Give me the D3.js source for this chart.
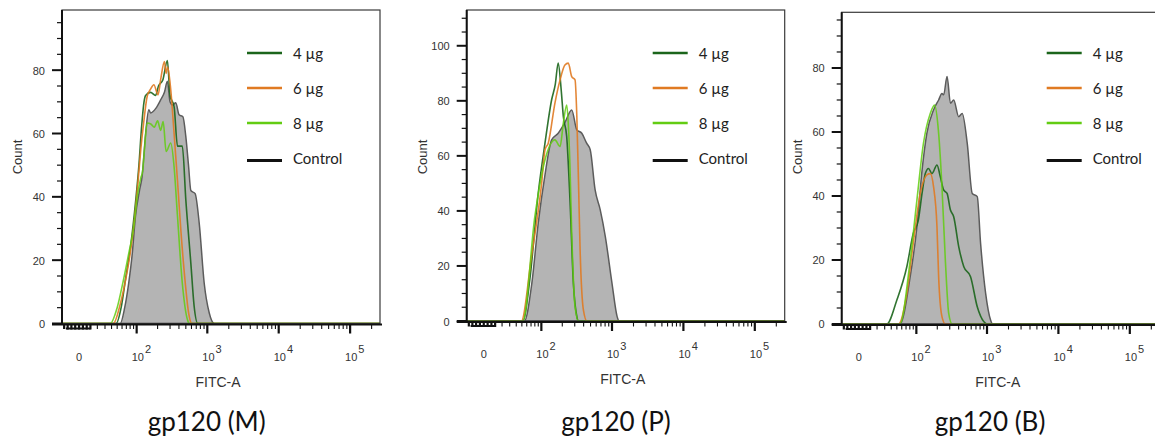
<!DOCTYPE html>
<html>
<head>
<meta charset="utf-8">
<script src="https://cdn.jsdelivr.net/npm/d3@7"></script>
<style>
  body { margin: 0; background: #fff; }
  svg { display: block; }
</style>
</head>
<body>
<div id="chart"></div>
<script>
// legend / series names
var seriesNames = ['4 µg', '6 µg', '8 µg', 'Control'];
var panelTitles = ['gp120 (M)', 'gp120 (P)', 'gp120 (B)'];

// histograms: [FITC-A value, count]
var mControl = [[56,0],[66,5],[76,12.7],[86,22],[96,33.8],[110,42],[120,46.4],[135,60],[150,67.5],[159,66.5],[190,68],[221,70.6],[250,73],[275,76.5],[300,70],[324,69],[361,69.7],[402,65.9],[455,65.3],[500,59],[545,50],[588,42],[675,41],[770,31.7],[905,12.7],[1065,3.3],[1255,0]];
var m4 = [[48,0],[58,5],[68,14],[82,25],[96,38],[108,50],[118,62],[128,70],[135,72],[159,73],[187,72],[206,75],[238,77],[275,83],[300,72],[342,68.5],[382,56],[446,56],[500,39],[588,19],[655,5.3],[736,0]];
var m6 = [[43,0],[56,6],[70,15],[80,22],[92,32],[105,45],[115,55],[126,63],[142,71.7],[159,74],[177,75.4],[203,72.2],[221,77],[250,82.7],[264,79],[277,81],[307,73.8],[342,60],[382,45],[424,30],[485,14],[550,3],[608,0]];
var m8 = [[38,0],[50,5],[62,13],[76,22],[90,30],[102,40],[115,46],[122,48],[130,55],[142,63.3],[160,63],[180,62],[200,64],[221,61],[240,63.8],[264,54.3],[307,57],[342,49.5],[382,33.8],[446,12.8],[530,1],[560,0]];

var pControl = [[55,0],[72,13.7],[90,35.6],[112,52.5],[141,65.8],[175,68.2],[216,71.9],[272,76.7],[320,69.5],[377,68.2],[441,64.6],[495,62.2],[580,47.6],[684,40.4],[806,30.7],[1000,13.7],[1180,1.6],[1250,0]];
var p4 = [[52,0],[67,15],[90,46.5],[113,64.6],[141,80.4],[159,86],[175,93.7],[193,84],[207,74.3],[231,67],[257,44],[287,13.7],[321,1.6],[339,0]];
var p6 = [[49,0],[71,23.4],[101,50],[113,62.2],[126,64.6],[157,79.1],[186,87.6],[218,93],[243,93.7],[272,88.8],[303,87.6],[321,74.3],[339,50],[357,25.8],[397,4],[444,0]];
var p8 = [[52,0],[80,37.9],[113,58.5],[157,65.8],[186,63.4],[207,71.9],[231,78.5],[243,71.9],[257,56],[272,31.9],[303,5.2],[339,0]];

var bControl = [[56,0],[81,14.8],[102,30.4],[121,48],[142,59.6],[177,66.9],[209,70],[233,72],[246,71.6],[275,77.3],[307,69],[341,70],[401,64.8],[449,65.8],[528,56.5],[621,40.8],[730,39.8],[813,25.2],[957,9.6],[1125,1.2],[1200,0]];
var b4 = [[33,0],[50,7.5],[72,17.9],[90,28.3],[107,32.5],[121,40.8],[135,47],[150,48.6],[168,47],[198,49.7],[221,46],[246,41.9],[275,40.8],[307,35.6],[341,33.5],[401,24.2],[473,17.9],[588,14.8],[730,5.4],[905,0.7],[1011,0]];
var b6 = [[53,0],[72,9.6],[90,25.2],[114,40.8],[142,46.6],[159,47],[177,42.9],[198,30.4],[209,14.8],[233,2.3],[260,0]];
var b8 = [[56,0],[81,20],[102,38.8],[127,56.5],[159,65.8],[183,68.4],[209,59.6],[233,42.9],[260,20],[290,3.3],[324,0]];

var yTickLabels = [[0,20,40,60,80],[0,20,40,60,80,100],[0,20,40,60,80]];
var xMajor = [0, 1e2, 1e3, 1e4, 1e5];
var xExponents = ['', '2', '3', '4', '5'];

var colors = ['#1b651b', '#e07a22', '#62cc12', '#111'];

var panels = [
    {left: 62, top: 10, bottom: 323.5, ymax: 99, titleX: 206.7, legendDx: 185, data: [m4, m6, m8, mControl]},
    {left: 466.7, top: 10, bottom: 321, ymax: 113, titleX: 616, legendDx: 186, data: [p4, p6, p8, pControl]},
    {left: 841.7, top: 12.3, bottom: 324, ymax: 97.4, titleX: 990, legendDx: 205, data: [b4, b6, b8, bControl]}
];

var width = 1155, height = 441, plotW = 318;
var C = 32, xMin = -18.5, xMax = 262144;
function tr(v) { return Math.asinh(v / C); }

var svg = d3.select('#chart').append('svg')
    .attr('width', width)
    .attr('height', height)
    .style('font-family', '"Liberation Sans", Arial, sans-serif');

var x = d3.scaleLinear().domain([tr(xMin), tr(xMax)]).range([0, plotW]);
function px(v) { return x(tr(v)); }

// minor x ticks (logicle-ish), dense bunch round zero
var xMinor = [-16, -12, -8, -4, 4, 8, 12];
d3.range(2, 10).forEach(function(k) { xMinor.push(k * 10); });
[100, 1000, 10000, 100000].forEach(function(d) {
    d3.range(2, 10).forEach(function(k) { if (k * d < xMax) xMinor.push(k * d); });
});

panels.forEach(function(p, pi) {
    var h = p.bottom - p.top;
    var y = d3.scaleLinear().domain([0, p.ymax]).range([h, 0]);
    var g = svg.append('g').attr('transform', 'translate(' + p.left + ',' + p.top + ')');

    g.append('clipPath').attr('id', 'clip' + pi)
        .append('rect').attr('width', plotW).attr('height', h + 1);

    var plot = g.append('g').attr('clip-path', 'url(#clip' + pi + ')');

    function ext(arr) { return [[xMin, 0]].concat(arr, [[xMax, 0]]); }

    var line = d3.line()
        .x(function(d) { return px(d[0]); })
        .y(function(d) { return y(d[1]); })
        .curve(d3.curveMonotoneX);
    var area = d3.area()
        .x(function(d) { return px(d[0]); })
        .y0(h)
        .y1(function(d) { return y(d[1]); })
        .curve(d3.curveMonotoneX);

    // control: grey filled
    plot.append('path')
        .datum(ext(p.data[3]))
        .attr('d', area)
        .attr('fill', '#b4b4b4')
        .attr('stroke', '#5c5c5c')
        .attr('stroke-width', 1.5);

    [0, 1, 2].forEach(function(i) {
        plot.append('path')
            .datum(ext(p.data[i]))
            .attr('d', line)
            .attr('fill', 'none')
            .attr('stroke', colors[i])
            .attr('stroke-opacity', i == 2 ? 0.85 : 0.9)
            .attr('stroke-width', 1.6);
    });

    // frame
    g.append('rect')
        .attr('width', plotW).attr('height', h)
        .attr('fill', 'none')
        .attr('stroke', '#3a3a3a')
        .attr('stroke-width', 1.2);
    g.append('line').attr('x1', 0).attr('x2', 0).attr('y1', 0).attr('y2', h + 1)
        .attr('stroke', '#111').attr('stroke-width', 2);
    g.append('line').attr('x1', -10).attr('x2', plotW + 2).attr('y1', h + 1).attr('y2', h + 1)
        .attr('stroke', '#111').attr('stroke-width', 2);

    // y ticks
    var minorY = d3.range(0, p.ymax, 5);
    g.selectAll('.ymin').data(minorY).enter().append('line')
        .attr('x1', function(d) { return d % 20 == 0 ? -10 : -5; })
        .attr('x2', 0)
        .attr('y1', function(d) { return y(d); })
        .attr('y2', function(d) { return y(d); })
        .attr('stroke', '#111')
        .attr('stroke-width', function(d) { return d % 20 == 0 ? 2 : 1.2; });
    g.selectAll('.ylab').data(yTickLabels[pi]).enter().append('text')
        .attr('x', -17)
        .attr('y', function(d) { return y(d) + 4.5; })
        .attr('text-anchor', 'end')
        .attr('font-size', 11)
        .attr('fill', '#333')
        .text(function(d) { return d; });

    g.append('text')
        .attr('transform', 'translate(' + (-40) + ',' + (157 - p.top) + ') rotate(-90)')
        .attr('text-anchor', 'middle')
        .attr('font-size', 13)
        .attr('fill', '#333')
        .text('Count');

    // x ticks
    g.selectAll('.xmin').data(xMinor).enter().append('line')
        .attr('x1', function(d) { return px(d); })
        .attr('x2', function(d) { return px(d); })
        .attr('y1', h + 1)
        .attr('y2', function(d) { return Math.abs(d) < 15 ? h + 6 : h + 5.5; })
        .attr('stroke', '#111')
        .attr('stroke-width', function(d) { return Math.abs(d) < 20 ? 2.2 : 1.1; });
    g.append('line')
        .attr('x1', px(-14)).attr('x2', px(12))
        .attr('y1', h + 5).attr('y2', h + 5)
        .attr('stroke', '#111').attr('stroke-width', 2);
    g.selectAll('.xmaj').data(xMajor).enter().append('line')
        .attr('x1', function(d) { return px(d); })
        .attr('x2', function(d) { return px(d); })
        .attr('y1', h + 1)
        .attr('y2', function(d) { return d == 0 ? h + 6 : h + 10; })
        .attr('stroke', '#111')
        .attr('stroke-width', 2.2);

    var xl = g.selectAll('.xlab').data(xMajor).enter().append('text')
        .attr('x', function(d) { return d == 0 ? px(d) : px(d) - 5; })
        .attr('y', h + 37)
        .attr('text-anchor', function(d) { return d == 0 ? 'middle' : 'start'; })
        .attr('font-size', 11)
        .attr('fill', '#333');
    xl.append('tspan').text(function(d) { return d == 0 ? '0' : '10'; });
    xl.append('tspan')
        .attr('dy', -8)
        .attr('dx', 1)
        .text(function(d, i) { return xExponents[i]; });

    g.append('text')
        .attr('x', 156)
        .attr('y', h + 63)
        .attr('text-anchor', 'middle')
        .attr('font-size', 14)
        .attr('fill', '#333')
        .text('FITC-A');

    // legend
    var leg = g.selectAll('.leg').data(seriesNames).enter().append('g')
        .attr('transform', function(d, i) { return 'translate(' + p.legendDx + ',' + (53 - p.top + i * 35) + ')'; });
    leg.append('line')
        .attr('x1', 0).attr('x2', 35)
        .attr('y1', function(d, i) { return i == 3 ? 2.5 : 0; })
        .attr('y2', function(d, i) { return i == 3 ? 2.5 : 0; })
        .attr('stroke', function(d, i) { return colors[i]; })
        .attr('stroke-width', function(d, i) { return i == 3 ? 3 : 2.4; });
    leg.append('text')
        .attr('x', 46)
        .attr('y', 6)
        .attr('font-family', 'Lato, "Open Sans", sans-serif')
        .attr('font-size', 15)
        .attr('fill', '#222')
        .text(function(d) { return d; });

    // panel title
    svg.append('text')
        .attr('x', p.titleX)
        .attr('y', 431)
        .attr('text-anchor', 'middle')
        .attr('font-family', 'Lato, "Open Sans", sans-serif')
        .attr('font-size', 26)
        .attr('fill', '#111')
        .text(panelTitles[pi]);
});
</script>
</body>
</html>
